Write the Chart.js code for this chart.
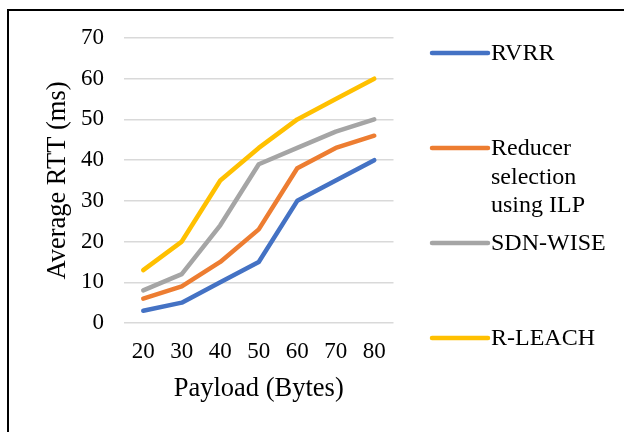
<!DOCTYPE html>
<html>
<head>
<meta charset="utf-8">
<script src="https://cdn.jsdelivr.net/npm/chart.js@4"></script>
<style>
  html, body { margin: 0; padding: 0; background: #fff; }
  #wrap { position: relative; width: 629px; height: 432px; }
  #frame { position: absolute; left: 7px; top: 9px; width: 617px; height: 430px;
           border-top: 2px solid #000; border-left: 2px solid #000; box-sizing: border-box; pointer-events: none; }
  canvas { position: absolute; left: 0; top: 0; }
</style>
</head>
<body>
<div id="wrap">
  <canvas id="c" width="629" height="432"></canvas>
  <div id="frame"></div>
</div>
<script>
const payloads = ['20', '30', '40', '50', '60', '70', '80'];
const rvrr = [3, 5, 10, 15, 30, 35, 40];
const reducerIlp = [6, 9, 15, 23, 38, 43, 46];
const sdnWise = [8, 12, 24, 39, 43, 47, 50];
const rLeach = [13, 20, 35, 43, 50, 55, 60];
const seriesLabels = [['RVRR'], ['Reducer', 'selection', 'using ILP'], ['SDN-WISE'], ['R-LEACH']];
const seriesColors = ['#4472C4', '#ED7D31', '#A5A5A5', '#FFC000'];
const xTitle = 'Payload (Bytes)';
const yTitle = 'Average RTT (ms)';

const serif = "'Liberation Serif', 'Times New Roman', serif";

const legendPlugin = {
  id: 'sideLegend',
  afterDraw(chart) {
    const ctx = chart.ctx;
    const startY = 53, step = 95, lineH = 28.5;
    const x0 = 432, x1 = 488, tx = 491;
    ctx.save();
    ctx.font = '24px ' + serif;
    ctx.textBaseline = 'middle';
    ctx.textAlign = 'left';
    chart.data.datasets.forEach((ds, i) => {
      const y = startY + i * step;
      ctx.strokeStyle = ds.borderColor;
      ctx.lineWidth = 4.5;
      ctx.lineCap = 'round';
      ctx.beginPath();
      ctx.moveTo(x0, y);
      ctx.lineTo(x1, y);
      ctx.stroke();
      ctx.fillStyle = '#000';
      ds.legendLines.forEach((t, k) => ctx.fillText(t, tx, y + k * lineH + 1));
    });
    ctx.restore();
  }
};

const seriesData = [rvrr, reducerIlp, sdnWise, rLeach];

new Chart(document.getElementById('c'), {
  type: 'line',
  data: {
    labels: payloads,
    datasets: seriesData.map((d, i) => ({
      label: seriesLabels[i].join(' '),
      legendLines: seriesLabels[i],
      data: d,
      borderColor: seriesColors[i],
      backgroundColor: seriesColors[i],
      borderWidth: 4.5,
      borderCapStyle: 'round',
      borderJoinStyle: 'round',
      pointRadius: 0,
      tension: 0,
      fill: false
    }))
  },
  options: {
    responsive: false,
    animation: false,
    devicePixelRatio: 1,
    layout: { padding: { left: 0, right: 235.5, top: 38, bottom: 0 } },
    plugins: {
      legend: { display: false },
      tooltip: { enabled: false }
    },
    scales: {
      x: {
        offset: true,
        grid: { display: false, drawTicks: false },
        border: { display: false },
        ticks: { color: '#000', font: { family: serif, size: 23 }, padding: 15, maxRotation: 0 },
        title: { display: true, text: xTitle, color: '#000', font: { family: serif, size: 26.5 }, padding: { top: 0, bottom: 27 } },
        afterFit(scale) { scale.height = 109; }
      },
      y: {
        min: 0, max: 70,
        ticks: { stepSize: 10, color: '#000', font: { family: serif, size: 23 }, padding: 20 },
        grid: { color: '#D9D9D9', lineWidth: 1.5, drawTicks: false },
        border: { display: false },
        title: { display: true, text: yTitle, color: '#000', font: { family: serif, size: 26.5 }, padding: { top: 42, bottom: 0 } },
        afterFit(scale) { scale.width = 124; }
      }
    }
  },
  plugins: [legendPlugin]
});
</script>
</body>
</html>
